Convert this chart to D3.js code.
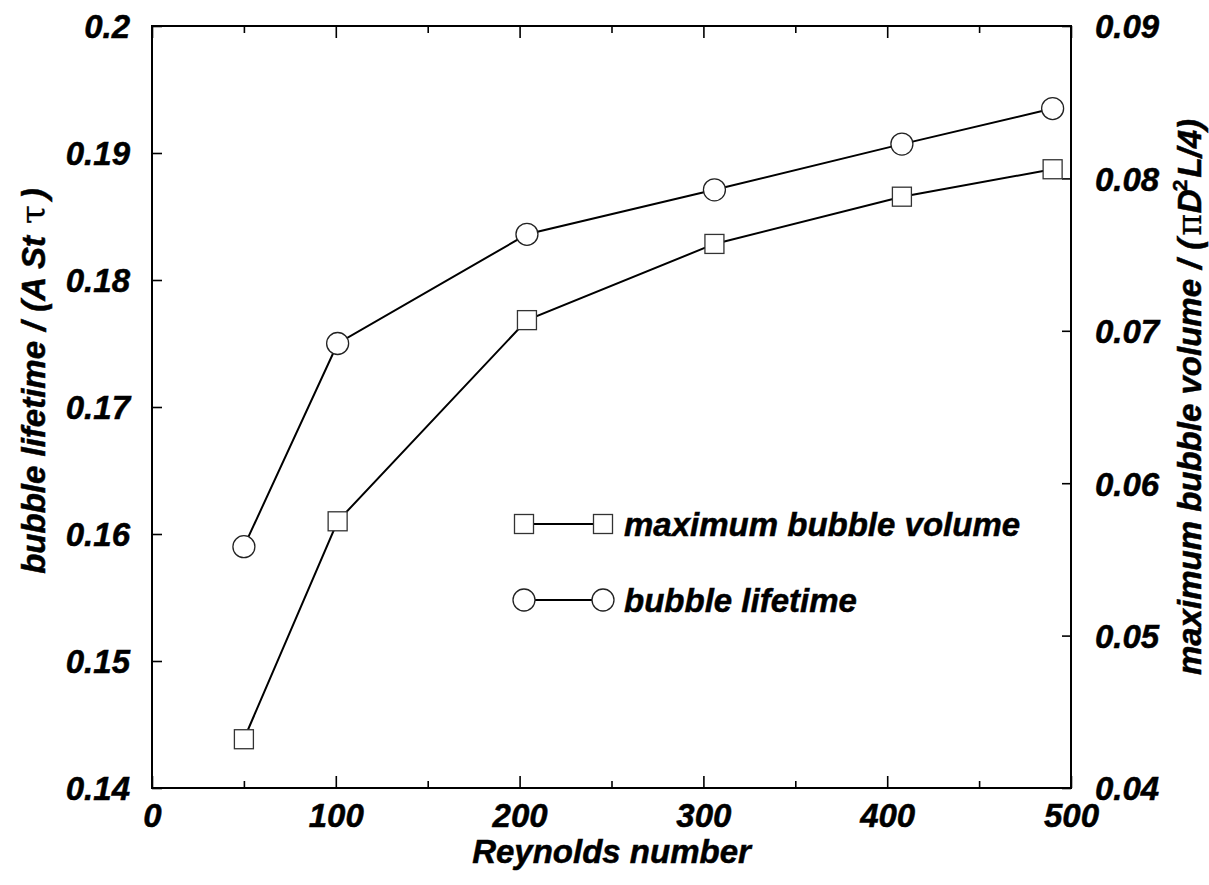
<!DOCTYPE html>
<html>
<head>
<meta charset="utf-8">
<script src="https://cdn.jsdelivr.net/npm/d3@7"></script>
<style>
  html, body { margin: 0; padding: 0; background: #fff; }
  svg text { font-family: "Liberation Sans", Arial, sans-serif; font-weight: bold; font-style: italic; fill: #000; stroke: #000; stroke-width: 0.5px; }
</style>
</head>
<body>
<svg id="chart" width="1209" height="885"></svg>
<script>
// ---- data ----
const reynolds = [50, 101, 204, 306, 408, 490];
const lifetime = [0.1590, 0.1750, 0.1836, 0.1871, 0.1907, 0.1935];
const maxVolume = [0.0432, 0.0575, 0.0707, 0.0757, 0.0788, 0.0806];
const xTicks = [0, 100, 200, 300, 400, 500];
const xMinorTicks = [50, 150, 250, 350, 450];
const leftTicks = [0.14, 0.15, 0.16, 0.17, 0.18, 0.19, 0.2];
const rightTicks = [0.04, 0.05, 0.06, 0.07, 0.08, 0.09];
const legendItems = ["maximum bubble volume", "bubble lifetime"];

// ---- layout ----
const svg = d3.select("#chart");
const L = 152, R = 1071, T = 26, B = 788;

const x = d3.scaleLinear().domain([0, 500]).range([L, R]);
const yL = d3.scaleLinear().domain([0.14, 0.2]).range([B, T]);
const yR = d3.scaleLinear().domain([0.04, 0.09]).range([B, T]);

const tickFont = 33;

// bottom axis
const gB = svg.append("g").attr("transform", `translate(0,${B})`)
  .call(d3.axisBottom(x).tickValues(xTicks).tickSize(-12).tickPadding(0).tickFormat(d3.format("d")));
gB.selectAll("text").attr("y", 39).attr("dy", 0).style("font-size", tickFont + "px");
svg.append("g").attr("transform", `translate(0,${B})`)
  .call(d3.axisBottom(x).tickValues(xMinorTicks).tickSize(-7).tickFormat(""));

// top axis
svg.append("g").attr("transform", `translate(0,${T})`)
  .call(d3.axisTop(x).tickValues(xTicks).tickSize(-12).tickFormat(""));
svg.append("g").attr("transform", `translate(0,${T})`)
  .call(d3.axisTop(x).tickValues(xMinorTicks).tickSize(-7).tickFormat(""));

// left axis
const gL = svg.append("g").attr("transform", `translate(${L},0)`)
  .call(d3.axisLeft(yL).tickValues(leftTicks).tickSize(-10).tickPadding(22).tickFormat(d3.format("~g")));
gL.selectAll("text").style("font-size", tickFont + "px").attr("dy", "0.36em");

// right axis
const gR = svg.append("g").attr("transform", `translate(${R},0)`)
  .call(d3.axisRight(yR).tickValues(rightTicks).tickSize(-9).tickPadding(24).tickFormat(d3.format("~g")));
gR.selectAll("text").style("font-size", tickFont + "px").attr("dy", "0.36em");

svg.selectAll(".domain").remove();
svg.selectAll(".tick line").attr("stroke", "#000").attr("stroke-width", 1.6);

// frame
svg.append("rect").attr("x", L).attr("y", T).attr("width", R - L).attr("height", B - T)
  .attr("fill", "none").attr("stroke", "#000").attr("stroke-width", 2);

// lines
const lineLife = d3.line().x((d, i) => x(reynolds[i])).y(d => yL(d));
const lineVol = d3.line().x((d, i) => x(reynolds[i])).y(d => yR(d));
svg.append("path").attr("d", lineLife(lifetime)).attr("fill", "none").attr("stroke", "#000").attr("stroke-width", 2);
svg.append("path").attr("d", lineVol(maxVolume)).attr("fill", "none").attr("stroke", "#000").attr("stroke-width", 2);

// markers
const cr = 11, sq = 19;
svg.append("g").selectAll("circle").data(lifetime).join("circle")
  .attr("cx", (d, i) => x(reynolds[i])).attr("cy", d => yL(d)).attr("r", cr)
  .attr("fill", "#fff").attr("stroke", "#222").attr("stroke-width", 1.3);
svg.append("g").selectAll("rect").data(maxVolume).join("rect")
  .attr("x", (d, i) => x(reynolds[i]) - sq / 2).attr("y", d => yR(d) - sq / 2)
  .attr("width", sq).attr("height", sq)
  .attr("fill", "#fff").attr("stroke", "#333").attr("stroke-width", 1.3);

// legend
const lx1 = 524, lx2 = 603, ly = [524, 600];
legendItems.forEach((name, i) => {
  const g = svg.append("g");
  g.append("line").attr("x1", lx1).attr("x2", lx2).attr("y1", ly[i]).attr("y2", ly[i])
    .attr("stroke", "#000").attr("stroke-width", 2);
  [lx1, lx2].forEach(cx => {
    if (i === 0) {
      g.append("rect").attr("x", cx - sq / 2).attr("y", ly[i] - sq / 2).attr("width", sq).attr("height", sq)
        .attr("fill", "#fff").attr("stroke", "#333").attr("stroke-width", 1.3);
    } else {
      g.append("circle").attr("cx", cx).attr("cy", ly[i]).attr("r", cr)
        .attr("fill", "#fff").attr("stroke", "#222").attr("stroke-width", 1.3);
    }
  });
  g.append("text").attr("x", 624).attr("y", ly[i] + 12).style("font-size", "33px").text(name);
});

// axis titles
svg.append("text").attr("x", x(250)).attr("y", 863).attr("text-anchor", "middle")
  .style("font-size", "33px").text("Reynolds number");

const tl = svg.append("text").attr("transform", "translate(45,381) rotate(-90)")
  .attr("text-anchor", "middle").style("font-size", "33px");
tl.append("tspan").text("bubble lifetime");
tl.append("tspan").attr("dx", 10).text("/");
tl.append("tspan").attr("dx", 10).text("(A St");
tl.append("tspan").attr("dx", 12).style("font-style", "normal").style("font-weight", "normal")
  .style("font-family", "'DejaVu Serif', serif").style("font-size", "34px").style("stroke-width", "0.3px").text("\u03C4");
tl.append("tspan").attr("dx", 6).text(")");

const tr = svg.append("text").attr("transform", "translate(1201,397) rotate(-90)")
  .attr("text-anchor", "middle").style("font-size", "33px");
tr.append("tspan").text("maximum bubble volume");
tr.append("tspan").attr("dx", 10).text("/");
tr.append("tspan").attr("dx", 10).text("(");
tr.append("tspan").attr("dx", 3).style("font-style", "normal").style("font-weight", "normal")
  .style("font-family", "'DejaVu Serif', serif").style("stroke-width", "0.3px").text("\u03C0");
tr.append("tspan").attr("dx", 1).text("D");
tr.append("tspan").attr("dy", -14).attr("dx", -2).style("font-size", "21px").style("font-style", "normal").text("2");
tr.append("tspan").attr("dy", 14).attr("dx", 2).text("L/4)");
</script>
</body>
</html>
